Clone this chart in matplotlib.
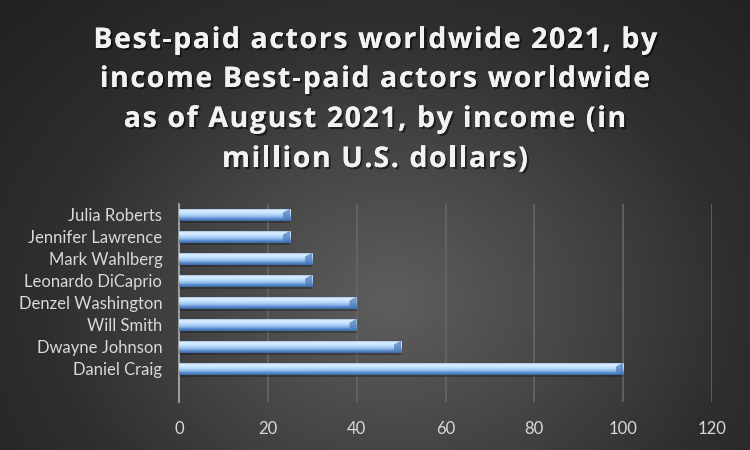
import numpy as np
import matplotlib
matplotlib.use("Agg")
import matplotlib.pyplot as plt
from matplotlib.colors import LinearSegmentedColormap
import matplotlib.patheffects as pe

actors = ["Julia Roberts", "Jennifer Lawrence", "Mark Wahlberg", "Leonardo DiCaprio",
          "Denzel Washington", "Will Smith", "Dwayne Johnson", "Daniel Craig"]
income = [25, 25, 30, 30, 40, 40, 50, 100]
xticks = [0, 20, 40, 60, 80, 100, 120]
title_lines = ["Best-paid actors worldwide 2021, by",
               "income Best-paid actors worldwide",
               "as of August 2021, by income (in",
               "million U.S. dollars)"]

plt.rcParams['font.family'] = ['Lato', 'DejaVu Sans']

fig = plt.figure(figsize=(7.5, 4.5), dpi=100)
W, H = 750.0, 450.0

# radial gradient background
bg = fig.add_axes([0, 0, 1, 1], zorder=-10)
yy, xx = np.mgrid[0:450, 0:750]
r = np.sqrt(((xx - 390) / 520.0) ** 2 + ((yy - 300) / 420.0) ** 2)
r = np.clip(r, 0, 1)
bgcmap = LinearSegmentedColormap.from_list("bg", ["#5e5e5e", "#474747", "#2e2e2e", "#222222"])
bg.imshow(r, cmap=bgcmap, vmin=0, vmax=1, aspect='auto', extent=[0, 1, 0, 1], origin='upper')
bg.set_axis_off()

# title with letter spacing
renderer = fig.canvas.get_renderer()
tfont = dict(fontsize=20.5, fontweight='bold', family=['Open Sans', 'DejaVu Sans'])
shadow = [pe.withSimplePatchShadow(offset=(1.5, -1.5), shadow_rgbFace='black', alpha=0.5),
          pe.Normal()]
spacing = 1.6
baselines = [48, 87, 127, 167]


def prefix_width(s):
    if not s:
        return 0.0
    t = fig.text(0, 0, s.replace(" ", "\u00a0"), **tfont)
    w = t.get_window_extent(renderer).width
    t.remove()
    return w


for line, base in zip(title_lines, baselines):
    n = len(line)
    pref = [prefix_width(line[:i]) for i in range(n + 1)]
    total = pref[n] + spacing * (n - 1)
    x0 = W / 2 - total / 2
    for i, ch in enumerate(line):
        if ch == " ":
            continue
        fig.text((x0 + pref[i] + spacing * i) / W, 1 - base / H, ch, ha='left',
                 va='baseline', color='#f2f2f2', path_effects=shadow, **tfont)

ax = fig.add_axes([0.2387, 0.1067, 0.9493 - 0.2387, 0.44])
ax.patch.set_alpha(0)

pos = np.arange(len(actors))
h = 0.56
barcmap = LinearSegmentedColormap.from_list(
    "bar", ["#5f8fcf", "#dcefff", "#cde7ff", "#b3d6fa", "#8fbbec", "#5a8acb", "#3a67a6"])
grad = np.linspace(0, 1, 64).reshape(-1, 1)
bars = ax.barh(pos, income, height=h, color='#8fbbec', zorder=3)
for b in bars:
    x0, y0 = b.get_x(), b.get_y()
    w, hh = b.get_width(), b.get_height()
    ax.add_patch(plt.Rectangle((x0, y0 + hh * 0.15), w, hh, color='black', alpha=0.25,
                               lw=0, zorder=2))
    im = ax.imshow(grad, cmap=barcmap, aspect='auto', extent=[x0, x0 + w, y0 + hh, y0],
                   origin='upper', zorder=4, interpolation='bilinear')
    im.set_clip_path(b)
    ax.fill([x0 + w - 1.6, x0 + w, x0 + w, x0 + w - 1.6],
            [y0 + hh * 0.3, y0, y0 + hh, y0 + hh * 0.75], color='#4b79b8', alpha=0.7,
            lw=0, zorder=5)

ax.set_xlim(0, 120)
ax.set_ylim(8.5, -0.5)
ax.set_xticks(xticks)
ax.set_xticklabels([str(t) for t in xticks])
ax.set_yticks(pos)
ax.set_yticklabels(actors)
ax.tick_params(axis='both', length=0, colors='#d9d9d9', labelsize=12)
ax.tick_params(axis='x', pad=14)
ax.tick_params(axis='y', pad=12)
ax.grid(axis='x', color='#666666', lw=1.2, zorder=0)
ax.set_axisbelow(True)
for s in ['top', 'right', 'bottom']:
    ax.spines[s].set_visible(False)
ax.spines['left'].set_color('#a6a6a6')
ax.spines['left'].set_linewidth(1.3)

fig.savefig("out.png", dpi=100)
